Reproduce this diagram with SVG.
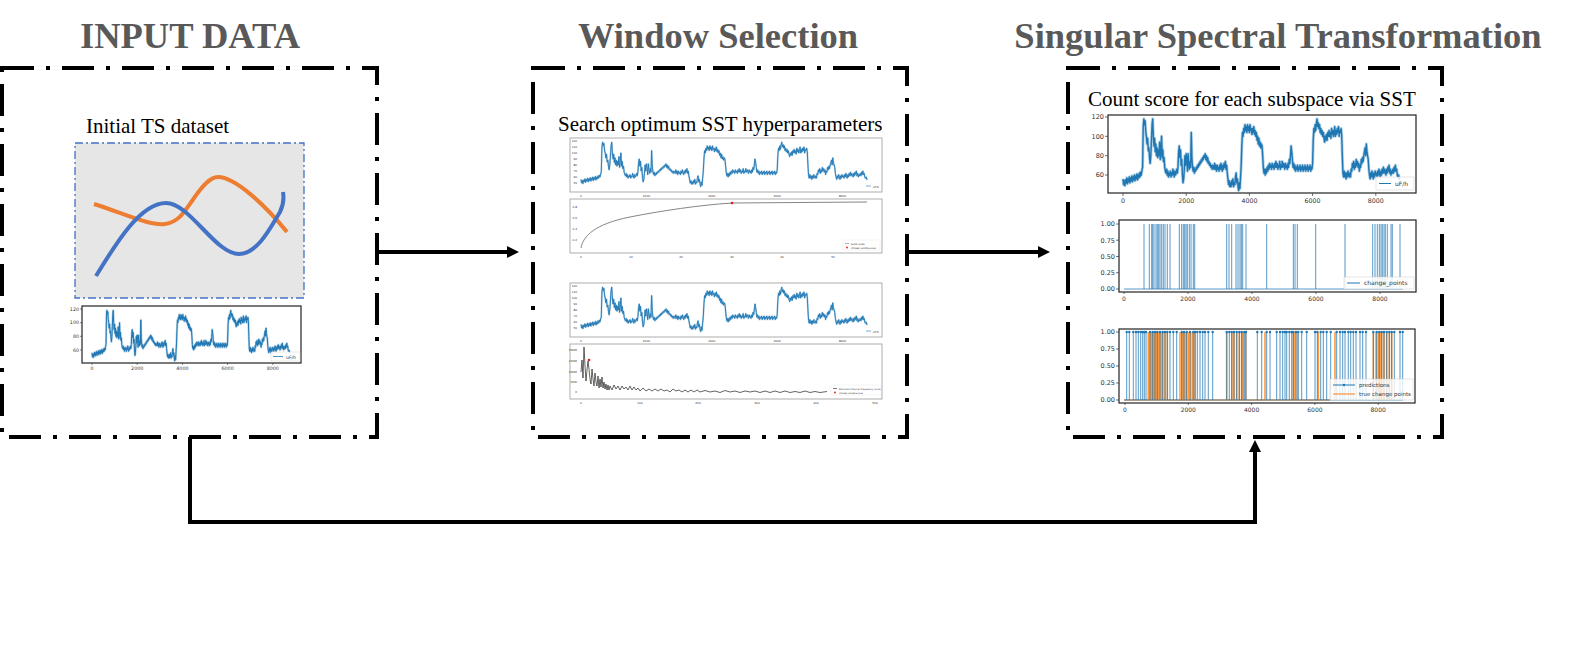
<svg xmlns="http://www.w3.org/2000/svg" xmlns:xlink="http://www.w3.org/1999/xlink" width="1570" height="648" viewBox="0 0 1570 648">
<style>
.title{font-family:"Liberation Serif","Times New Roman",serif;font-weight:bold;font-size:36.5px;fill:#595959;text-anchor:middle}
.sub{font-family:"Liberation Serif","Times New Roman",serif;font-size:21px;fill:#000}
.box{fill:none;stroke:#000;stroke-width:4;stroke-dasharray:32 12 4 12}
.tick{font-family:"DejaVu Sans",sans-serif;fill:#333}
.frame{fill:none;stroke:#222;stroke-width:1.2}
.mframe{fill:none;stroke:#999;stroke-width:0.8}
.ts{fill:none;stroke:#1f77b4;stroke-linejoin:round}
.halo{stroke-opacity:0.35}
.conn{fill:none;stroke:#000;stroke-width:4}
.cp{fill:none;stroke:#1f77b4;stroke-width:1;stroke-opacity:0.75}
.tc{fill:none;stroke:#ff7f0e;stroke-width:1.6;stroke-opacity:0.8}
</style>
<defs>
<marker id="ah" markerUnits="userSpaceOnUse" markerWidth="14" markerHeight="14" refX="4" refY="6" orient="auto">
<path d="M0,0 L12,6 L0,12 z" fill="#000"/>
</marker>
<polyline id="ts" class="ts" vector-effect="non-scaling-stroke" points="0,-56 2,-50 4,-54 6,-49 8,-55 10,-52 12,-57 14,-51 16,-56 18,-53 20,-58 22,-52 24,-57 26,-54 28,-59 30,-53 32,-58 34,-55 36,-60 38,-54 40,-59 42,-56 44,-61 46,-55 48,-60 50,-57 52,-62 54,-58 56,-63 58,-60 60,-65 62,-68 64,-110 66,-118 68,-112 70,-116 72,-105 74,-100 76,-92 78,-98 80,-85 82,-88 84,-78 86,-72 88,-80 90,-95 92,-112 94,-118 96,-100 98,-90 100,-98 102,-84 104,-92 106,-80 108,-88 110,-78 112,-86 114,-80 116,-94 118,-76 120,-84 122,-100 124,-78 126,-86 128,-74 130,-78 132,-68 134,-64 136,-62 138,-66 140,-60 142,-64 144,-58 146,-62 148,-60 150,-64 152,-58 154,-62 156,-60 158,-66 160,-62 162,-58 164,-64 166,-60 168,-62 170,-66 172,-62 174,-68 176,-84 178,-90 180,-78 182,-86 184,-70 186,-76 188,-60 190,-52 192,-56 194,-66 196,-80 198,-70 200,-82 202,-76 204,-64 206,-82 208,-72 210,-66 212,-74 214,-68 216,-104 218,-78 220,-68 222,-64 224,-68 226,-62 228,-66 230,-64 232,-68 234,-66 236,-70 238,-68 240,-72 242,-70 244,-74 246,-72 248,-76 250,-74 252,-78 254,-76 256,-80 258,-78 260,-82 262,-76 264,-80 266,-74 268,-78 270,-72 272,-74 274,-70 276,-72 278,-68 280,-70 282,-66 284,-70 286,-68 288,-66 290,-72 292,-66 294,-70 296,-64 298,-70 300,-66 302,-68 304,-64 306,-70 308,-66 310,-72 312,-68 314,-64 316,-70 318,-66 320,-72 322,-68 324,-74 326,-66 328,-70 330,-62 332,-56 334,-50 336,-54 338,-48 340,-52 342,-48 344,-54 346,-50 348,-56 350,-48 352,-52 354,-50 356,-58 358,-62 360,-52 362,-56 364,-48 366,-44 368,-52 370,-46 372,-58 374,-70 376,-90 378,-104 380,-100 382,-108 384,-104 386,-112 388,-106 390,-110 392,-104 394,-112 396,-106 398,-110 400,-104 402,-112 404,-106 406,-108 408,-102 410,-108 412,-104 414,-110 416,-102 418,-106 420,-100 422,-104 424,-96 426,-100 428,-92 430,-98 432,-90 434,-94 436,-88 438,-92 440,-90 442,-80 444,-68 446,-62 448,-66 450,-60 452,-66 454,-62 456,-68 458,-64 460,-70 462,-66 464,-72 466,-68 468,-70 470,-66 472,-72 474,-68 476,-70 478,-66 480,-72 482,-68 484,-74 486,-68 488,-72 490,-66 492,-70 494,-68 496,-74 498,-66 500,-70 502,-68 504,-74 506,-68 508,-72 510,-70 512,-66 514,-72 516,-68 518,-70 520,-66 522,-72 524,-68 526,-76 528,-72 530,-80 532,-90 534,-84 536,-76 538,-68 540,-72 542,-66 544,-70 546,-64 548,-68 550,-66 552,-70 554,-64 556,-68 558,-66 560,-70 562,-64 564,-68 566,-66 568,-70 570,-64 572,-68 574,-66 576,-70 578,-64 580,-68 582,-66 584,-70 586,-64 588,-68 590,-66 592,-70 594,-64 596,-68 598,-66 600,-72 602,-96 604,-108 606,-104 608,-112 610,-106 612,-114 614,-118 616,-110 618,-114 620,-108 622,-112 624,-104 626,-108 628,-102 630,-106 632,-100 634,-104 636,-98 638,-94 640,-100 642,-96 644,-102 646,-96 648,-104 650,-100 652,-106 654,-100 656,-104 658,-98 660,-108 662,-102 664,-106 666,-100 668,-104 670,-110 672,-100 674,-106 676,-102 678,-108 680,-104 682,-110 684,-100 686,-106 688,-104 690,-108 692,-102 694,-80 696,-62 698,-58 700,-64 702,-58 704,-62 706,-56 708,-62 710,-58 712,-64 714,-60 716,-58 718,-62 720,-58 722,-66 724,-64 726,-72 728,-68 730,-74 732,-66 734,-72 736,-68 738,-76 740,-70 742,-74 744,-68 746,-72 748,-64 750,-70 752,-68 754,-76 756,-72 758,-78 760,-74 762,-80 764,-84 766,-88 768,-80 770,-92 772,-84 774,-80 776,-76 778,-66 780,-60 782,-56 784,-62 786,-58 788,-64 790,-60 792,-56 794,-62 796,-58 798,-64 800,-60 802,-62 804,-58 806,-64 808,-60 810,-66 812,-62 814,-58 816,-64 818,-60 820,-66 822,-62 824,-68 826,-62 828,-66 830,-64 832,-60 834,-66 836,-62 838,-68 840,-64 842,-70 844,-62 846,-66 848,-60 850,-64 852,-62 854,-66 856,-62 858,-68 860,-64 862,-70 864,-64 866,-66 868,-60 870,-58 872,-60 874,-56 876,-56"/>
</defs>

<rect width="1570" height="648" fill="#fff"/>

<!-- Node: INPUT DATA -->
<g id="node-input">
<text class="title" x="190" y="48">INPUT DATA</text>
<rect class="box" x="2" y="68" width="375" height="369"/>
<text class="sub" x="86" y="133">Initial TS dataset</text>
<rect x="75" y="143" width="229" height="155" fill="#e6e6e6" stroke="#4472c4" stroke-width="1.3" stroke-dasharray="8 3 2 3"/>
<path d="M94,204 C125,214 150,226 165,224 C178,222 183,214 192,201 C202,186 210,177 218,177 C235,177 265,205 287,232" fill="none" stroke="#ed7d31" stroke-width="4"/>
<path d="M96,276 C115,245 140,203 166,203 C190,203 215,254 239,254 C258,254 272,225 280,212 C284,204 284,198 283,192" fill="none" stroke="#4472c4" stroke-width="4"/>
<g id="plot-input">
<rect class="frame" x="82" y="306" width="219" height="57" stroke-width="1.4"/>
<use href="#ts" xlink:href="#ts" class="halo" transform="translate(92,391) scale(0.226,0.683)" stroke-width="2.2"/>
<use href="#ts" xlink:href="#ts" transform="translate(92,391) scale(0.226,0.683)" stroke-width="1"/>
<path d="M82,309h-2M82,322.7h-2M82,336.3h-2M82,350h-2M92,363v2M137.2,363v2M182.4,363v2M227.6,363v2M272.8,363v2" stroke="#333" stroke-width="0.6"/>
<g class="tick" font-size="4.8" text-anchor="end">
<text x="79" y="310.7">120</text><text x="79" y="324.4">100</text><text x="79" y="338">80</text><text x="79" y="351.7">60</text>
</g>
<g class="tick" font-size="4.8" text-anchor="middle">
<text x="92" y="370">0</text><text x="137.2" y="370">2000</text><text x="182.4" y="370">4000</text><text x="227.6" y="370">6000</text><text x="272.8" y="370">8000</text>
</g>
<rect x="271" y="352" width="29" height="9" fill="#fff" fill-opacity="0.8" stroke="#ccc" stroke-width="0.4"/>
<path d="M273,356.5h10" stroke="#1f77b4" stroke-width="0.8"/>
<text class="tick" font-size="4.6" x="286" y="358.5">uF/h</text>
</g>
</g>

<!-- Node: Window Selection -->
<g id="node-window">
<text class="title" x="718" y="48">Window Selection</text>
<rect class="box" x="533" y="68" width="374" height="369"/>
<text class="sub" x="558" y="131" font-size="22">Search optimum SST hyperparameters</text>
<g id="plot-w1">
<rect class="mframe" x="570" y="138" width="312" height="54"/>
<use href="#ts" xlink:href="#ts" class="halo" transform="translate(581,213) scale(0.327,0.6)" stroke-width="1.8"/>
<use href="#ts" xlink:href="#ts" transform="translate(581,213) scale(0.327,0.6)" stroke-width="0.9"/>
<g class="tick" font-size="2.8" text-anchor="end">
<text x="577" y="142">120</text><text x="577" y="148">110</text><text x="577" y="154">100</text><text x="577" y="160">90</text><text x="577" y="166">80</text><text x="577" y="172">70</text><text x="577" y="178">60</text><text x="577" y="184">50</text>
</g>
<g class="tick" font-size="2.8" text-anchor="middle">
<text x="581" y="197">0</text><text x="646.4" y="197">2000</text><text x="711.8" y="197">4000</text><text x="777.2" y="197">6000</text><text x="842.6" y="197">8000</text>
</g>
<path d="M866,186h5" stroke="#1f77b4" stroke-width="0.6"/>
<text class="tick" font-size="2.8" x="873" y="187.5">uF/h</text>
</g>
<g id="plot-w2">
<rect class="mframe" x="570" y="199" width="312" height="54"/>
<path d="M581,248 C583,236 595,224 630,217 C660,211 700,205 732,203 L867,202" fill="none" stroke="#777" stroke-width="0.9"/>
<circle cx="732" cy="203" r="1.3" fill="#e31a1c"/>
<g class="tick" font-size="2.8" text-anchor="end">
<text x="577" y="208">0.8</text><text x="577" y="219">0.6</text><text x="577" y="230">0.4</text><text x="577" y="241">0.2</text>
</g>
<g class="tick" font-size="2.8" text-anchor="middle">
<text x="581" y="258">0</text><text x="631" y="258">10</text><text x="681" y="258">20</text><text x="732" y="258">30</text><text x="782" y="258">40</text><text x="833" y="258">50</text>
</g>
<rect x="843" y="240" width="37" height="10" fill="#fff" stroke="#ddd" stroke-width="0.3"/>
<path d="M845,243.5h4" stroke="#777" stroke-width="0.6"/>
<circle cx="847" cy="247.5" r="0.9" fill="#e31a1c"/>
<g class="tick" font-size="2.5"><text x="851" y="244.5">SuSS scale</text><text x="851" y="248.5">chosen window size</text></g>
</g>
<g id="plot-w3">
<rect class="mframe" x="570" y="283" width="312" height="54"/>
<use href="#ts" xlink:href="#ts" class="halo" transform="translate(581,358) scale(0.327,0.6)" stroke-width="1.8"/>
<use href="#ts" xlink:href="#ts" transform="translate(581,358) scale(0.327,0.6)" stroke-width="0.9"/>
<g class="tick" font-size="2.8" text-anchor="end">
<text x="577" y="287">120</text><text x="577" y="293">110</text><text x="577" y="299">100</text><text x="577" y="305">90</text><text x="577" y="311">80</text><text x="577" y="317">70</text><text x="577" y="323">60</text><text x="577" y="329">50</text>
</g>
<g class="tick" font-size="2.8" text-anchor="middle">
<text x="581" y="342">0</text><text x="646.4" y="342">2000</text><text x="711.8" y="342">4000</text><text x="777.2" y="342">6000</text><text x="842.6" y="342">8000</text>
</g>
<path d="M866,331h5" stroke="#1f77b4" stroke-width="0.6"/>
<text class="tick" font-size="2.8" x="873" y="332.5">uF/h</text>
</g>
<g id="plot-w4">
<rect class="mframe" x="570" y="344" width="312" height="55"/>
<path d="M581,372 L582,360 583,378 584,347 585,366 586,381 587,370 588,361 589,369 590,379 591,384 592,369 593,379 594,386 595,373 596,382 597,386 598,376 599,388 600,379 601,387 602,377 603,388 604,382 605,389 606,384 607,390 608,385 609,390 610,386 612,390 614,385 616,389 618,386 620,390 622,386 624,389 626,387 628,390 630,386 632,390 634,387 636,390 638,388 640,391 643,388 646,391 649,389 652,391 655,389 658,391 661,389 664,391 667,390 670,392 673,389 676,391 679,390 682,392 685,390 688,392 691,390 694,392 697,390 700,392 705,390.5 710,392 715,391 720,392.5 725,390.5 730,392 735,391 740,392.5 745,391 750,392 755,391 760,392.5 765,391 770,392.5 775,391 780,392.5 785,391 790,392.5 795,391.5 800,392.5 805,391 810,392.5 815,391.5 820,392.5 827,391.5" fill="none" stroke="#222" stroke-width="0.7"/>
<circle cx="589" cy="360" r="1.3" fill="#e31a1c"/>
<g class="tick" font-size="2.6" text-anchor="end">
<text x="577" y="351">20000</text><text x="577" y="362">15000</text><text x="577" y="372.5">10000</text><text x="577" y="383">5000</text><text x="577" y="393">0</text>
</g>
<g class="tick" font-size="2.8" text-anchor="middle">
<text x="581" y="404">0</text><text x="640" y="404">100</text><text x="698" y="404">200</text><text x="757" y="404">300</text><text x="816" y="404">400</text><text x="875" y="404">500</text>
</g>
<rect x="831" y="385" width="50" height="10" fill="#fff" stroke="#ddd" stroke-width="0.3"/>
<path d="M833,388.5h4" stroke="#222" stroke-width="0.6"/>
<circle cx="835" cy="392.5" r="0.9" fill="#e31a1c"/>
<g class="tick" font-size="2.4"><text x="839" y="389.5">Dominant Fourier Frequency curve</text><text x="839" y="393.5">chosen window size</text></g>
</g>
</g>

<!-- Node: Singular Spectral Transformation -->
<g id="node-sst">
<text class="title" x="1278" y="48" font-size="37">Singular Spectral Transformation</text>
<rect class="box" x="1068" y="68" width="374" height="369"/>
<text class="sub" x="1088" y="106" font-size="21.5">Count score for each subspace via SST</text>
<g id="plot-s1">
<rect class="frame" x="1108" y="115" width="308" height="78"/>
<use href="#ts" xlink:href="#ts" class="halo" transform="translate(1123,233) scale(0.316,0.967)" stroke-width="3"/>
<use href="#ts" xlink:href="#ts" transform="translate(1123,233) scale(0.316,0.967)" stroke-width="1.4"/>
<path d="M1108,117h-3M1108,136.3h-3M1108,155.7h-3M1108,175h-3M1123,193v3M1186.2,193v3M1249.4,193v3M1312.6,193v3M1375.8,193v3" stroke="#333" stroke-width="0.7"/>
<g class="tick" font-size="6.5" text-anchor="end">
<text x="1104" y="119.3">120</text><text x="1104" y="138.6">100</text><text x="1104" y="158">80</text><text x="1104" y="177.3">60</text>
</g>
<g class="tick" font-size="6.3" text-anchor="middle">
<text x="1123" y="202.5">0</text><text x="1186.2" y="202.5">2000</text><text x="1249.4" y="202.5">4000</text><text x="1312.6" y="202.5">6000</text><text x="1375.8" y="202.5">8000</text>
</g>
<rect x="1376" y="177" width="38" height="13" fill="#fff" fill-opacity="0.8" stroke="#ccc" stroke-width="0.5"/>
<path d="M1379,183.5h12" stroke="#1f77b4" stroke-width="1"/>
<text class="tick" font-size="6" x="1395" y="186">uF/h</text>
</g>
<g id="plot-s2">
<rect class="frame" x="1119" y="220" width="297" height="72"/>
<path class="cp" d="M1124,289H1403 M1144,289V224 M1149.3,289V224 M1151.7,289V224 M1152.7,289V224 M1154,289V224 M1156,289V224 M1157.3,289V224 M1158.7,289V224 M1160,289V224 M1161.7,289V224 M1163.3,289V224 M1165,289V224 M1167.3,289V224 M1170,289V224 M1179.3,289V224 M1181.7,289V224 M1183.3,289V224 M1184.7,289V224 M1186,289V224 M1187.3,289V224 M1189.3,289V224 M1191,289V224 M1193.3,289V224 M1194.7,289V224 M1226.7,289V224 M1229,289V224 M1231.7,289V224 M1236,289V224 M1238,289V224 M1240,289V224 M1241.3,289V224 M1242.7,289V224 M1246,289V224 M1266.7,289V224 M1293.3,289V224 M1295,289V224 M1297.3,289V224 M1315.7,289V224 M1345,289V224 M1372.7,289V224 M1375,289V224 M1377.3,289V224 M1379.3,289V224 M1381,289V224 M1382.3,289V224 M1384,289V224 M1385.3,289V224 M1387.3,289V224 M1391,289V224 M1392.3,289V224 M1400,289V224"/>
<path d="M1119,224h-3M1119,240.2h-3M1119,256.5h-3M1119,272.7h-3M1119,289h-3M1124,292v2M1188,292v2M1252,292v2M1316,292v2M1380,292v2" stroke="#333" stroke-width="0.7"/>
<g class="tick" font-size="6.5" text-anchor="end">
<text x="1115" y="226.3">1.00</text><text x="1115" y="242.5">0.75</text><text x="1115" y="258.8">0.50</text><text x="1115" y="275">0.25</text><text x="1115" y="291.3">0.00</text>
</g>
<g class="tick" font-size="6" text-anchor="middle">
<text x="1124" y="300.5">0</text><text x="1188" y="300.5">2000</text><text x="1252" y="300.5">4000</text><text x="1316" y="300.5">6000</text><text x="1380" y="300.5">8000</text>
</g>
<rect x="1344" y="277" width="70" height="12" fill="#fff" fill-opacity="0.85" stroke="#ccc" stroke-width="0.5"/>
<path d="M1347,283h13" stroke="#1f77b4" stroke-width="1"/>
<text class="tick" font-size="6" x="1364" y="285.3">change_points</text>
</g>
<g id="plot-s3">
<rect class="frame" x="1119" y="329" width="296" height="74"/>
<path class="tc" d="M1124,400H1330 M1148.3,400V332 M1150,400V332 M1151.3,400V332 M1152.7,400V332 M1154,400V332 M1155.3,400V332 M1156.7,400V332 M1158,400V332 M1159.3,400V332 M1161,400V332 M1162.7,400V332 M1165,400V332 M1167.3,400V332 M1180,400V332 M1182,400V332 M1183.3,400V332 M1185,400V332 M1186.7,400V332 M1188.7,400V332 M1190.7,400V332 M1192.7,400V332 M1195,400V332 M1226.7,400V332 M1232,400V332 M1234,400V332 M1236.7,400V332 M1239.3,400V332 M1241.7,400V332 M1243.3,400V332 M1245.7,400V332 M1265,400V332 M1293.3,400V332 M1295,400V332 M1297.3,400V332 M1318.3,400V332 M1335,400V332 M1373.3,400V332 M1376,400V332 M1378.3,400V332 M1380,400V332 M1381.7,400V332 M1384,400V332 M1386.7,400V332 M1389.3,400V332 M1391.7,400V332"/>
<path class="cp" d="M1124,400H1403 M1126.7,400V332 M1129.3,400V332 M1133.3,400V332 M1136,400V332 M1138.3,400V332 M1140.7,400V332 M1142.7,400V332 M1144.3,400V332 M1146,400V332 M1150,400V332 M1152.7,400V332 M1155,400V332 M1157.3,400V332 M1160,400V332 M1162.7,400V332 M1165,400V332 M1167.3,400V332 M1170,400V332 M1173.3,400V332 M1176.7,400V332 M1181.7,400V332 M1184,400V332 M1186.7,400V332 M1190,400V332 M1193.3,400V332 M1195,400V332 M1197.3,400V332 M1200,400V332 M1202.7,400V332 M1205,400V332 M1208.3,400V332 M1212.7,400V332 M1226.7,400V332 M1229.3,400V332 M1231.7,400V332 M1234,400V332 M1236.7,400V332 M1239.3,400V332 M1241.7,400V332 M1244.3,400V332 M1246,400V332 M1257.3,400V332 M1261.7,400V332 M1266.7,400V332 M1270,400V332 M1276.7,400V332 M1280,400V332 M1282.7,400V332 M1285,400V332 M1286.7,400V332 M1289.3,400V332 M1291.7,400V332 M1293.3,400V332 M1296,400V332 M1298.3,400V332 M1301.7,400V332 M1306.7,400V332 M1315,400V332 M1317.3,400V332 M1320.7,400V332 M1323.3,400V332 M1326.7,400V332 M1330.7,400V332 M1336.7,400V332 M1340,400V332 M1342.7,400V332 M1345,400V332 M1348.3,400V332 M1350.7,400V332 M1353.3,400V332 M1356,400V332 M1360,400V332 M1362.7,400V332 M1366,400V332 M1373.3,400V332 M1376.7,400V332 M1379.3,400V332 M1381.7,400V332 M1384,400V332 M1386.7,400V332 M1389.3,400V332 M1391.7,400V332 M1394.3,400V332 M1400,400V332 M1402.7,400V332"/>
<path d="M1126.7,332h0M1129.3,332h0M1133.3,332h0M1136,332h0M1138.3,332h0M1140.7,332h0M1142.7,332h0M1144.3,332h0M1146,332h0M1150,332h0M1152.7,332h0M1155,332h0M1157.3,332h0M1160,332h0M1162.7,332h0M1165,332h0M1167.3,332h0M1170,332h0M1173.3,332h0M1176.7,332h0M1181.7,332h0M1184,332h0M1186.7,332h0M1190,332h0M1193.3,332h0M1195,332h0M1197.3,332h0M1200,332h0M1202.7,332h0M1205,332h0M1208.3,332h0M1212.7,332h0M1226.7,332h0M1229.3,332h0M1231.7,332h0M1234,332h0M1236.7,332h0M1239.3,332h0M1241.7,332h0M1244.3,332h0M1246,332h0M1257.3,332h0M1261.7,332h0M1266.7,332h0M1270,332h0M1276.7,332h0M1280,332h0M1282.7,332h0M1285,332h0M1286.7,332h0M1289.3,332h0M1291.7,332h0M1293.3,332h0M1296,332h0M1298.3,332h0M1301.7,332h0M1306.7,332h0M1315,332h0M1317.3,332h0M1320.7,332h0M1323.3,332h0M1326.7,332h0M1330.7,332h0M1336.7,332h0M1340,332h0M1342.7,332h0M1345,332h0M1348.3,332h0M1350.7,332h0M1353.3,332h0M1356,332h0M1360,332h0M1362.7,332h0M1366,332h0M1373.3,332h0M1376.7,332h0M1379.3,332h0M1381.7,332h0M1384,332h0M1386.7,332h0M1389.3,332h0M1391.7,332h0M1394.3,332h0M1400,332h0M1402.7,332h0" stroke="#1f77b4" stroke-width="2.4" stroke-linecap="round"/>
<path d="M1119,332h-3M1119,349h-3M1119,366h-3M1119,383h-3M1119,400h-3M1125,403v2M1188.3,403v2M1251.6,403v2M1314.9,403v2M1378.2,403v2" stroke="#333" stroke-width="0.7"/>
<g class="tick" font-size="6.5" text-anchor="end">
<text x="1115" y="334.3">1.00</text><text x="1115" y="351.3">0.75</text><text x="1115" y="368.3">0.50</text><text x="1115" y="385.3">0.25</text><text x="1115" y="402.3">0.00</text>
</g>
<g class="tick" font-size="6" text-anchor="middle">
<text x="1125" y="411.5">0</text><text x="1188.3" y="411.5">2000</text><text x="1251.6" y="411.5">4000</text><text x="1314.9" y="411.5">6000</text><text x="1378.2" y="411.5">8000</text>
</g>
<rect x="1330" y="379" width="83" height="21" fill="#fff" fill-opacity="0.8" stroke="#ccc" stroke-width="0.5"/>
<path d="M1333,385h22" stroke="#1f77b4" stroke-width="1"/>
<circle cx="1344" cy="385" r="1.2" fill="#1f77b4"/>
<path d="M1333,394h22" stroke="#ff7f0e" stroke-width="1"/>
<g class="tick" font-size="5.5"><text x="1359" y="387">predictions</text><text x="1359" y="396">true change points</text></g>
</g>
</g>

<!-- Connectors -->
<g id="connectors">
<path class="conn" d="M377,252 H511" marker-end="url(#ah)"/>
<path class="conn" d="M907,252 H1042" marker-end="url(#ah)"/>
<path class="conn" d="M190,437 V522 H1255 V448" marker-end="url(#ah)"/>
</g>
</svg>
